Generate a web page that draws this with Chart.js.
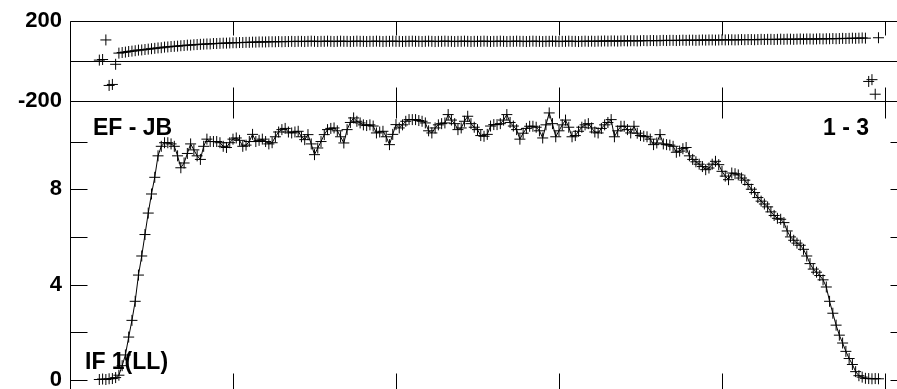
<!DOCTYPE html>
<html>
<head>
<meta charset="utf-8">
<script src="https://cdn.jsdelivr.net/npm/chart.js@4.4.1/dist/chart.umd.min.js"></script>
<style>
  html, body { margin: 0; padding: 0; background: #fff; overflow: hidden; }
  #wrap { position: relative; width: 897px; height: 389px; overflow: hidden; }
  canvas { position: absolute; left: 0; top: 0; }
</style>
</head>
<body>
<div id="wrap">
  <canvas id="phase" width="920" height="420"></canvas>
  <canvas id="amp" width="920" height="420"></canvas>
</div>
<script>
// channel of the first value, values follow one per channel
const firstChannel = 9;

// phase (degrees), channels 9..248
const phase = [
  5, 8, 106, -122, -117, -16, 40, 43, 45, 48,
  50, 52, 55, 56, 58, 60, 62, 64, 66, 67,
  70, 71, 73, 74, 75, 77, 78, 80, 80, 82,
  83, 84, 85, 86, 86, 88, 88, 89, 90, 90,
  91, 92, 92, 93, 93, 94, 94, 95, 95, 96,
  96, 96, 97, 97, 97, 98, 97, 98, 98, 99,
  98, 99, 99, 98, 99, 100, 99, 98, 99, 99,
  100, 99, 98, 99, 100, 99, 99, 98, 99, 100,
  99, 99, 98, 99, 99, 100, 99, 98, 99, 99,
  100, 99, 99, 98, 99, 99, 100, 99, 99, 98,
  99, 100, 99, 98, 99, 99, 100, 99, 99, 98,
  99, 99, 100, 99, 98, 99, 99, 99, 100, 99,
  98, 99, 99, 100, 99, 98, 99, 99, 100, 99,
  99, 98, 99, 100, 99, 99, 98, 99, 99, 100,
  99, 98, 99, 99, 100, 99, 99, 98, 99, 100,
  99, 100, 99, 100, 100, 101, 100, 101, 101, 100,
  101, 102, 101, 102, 102, 101, 102, 103, 102, 103,
  103, 102, 103, 104, 103, 104, 104, 103, 104, 105,
  104, 105, 105, 104, 105, 106, 105, 106, 106, 105,
  106, 107, 106, 107, 107, 106, 107, 108, 107, 108,
  108, 107, 108, 109, 108, 109, 109, 108, 109, 110,
  109, 110, 110, 109, 110, 111, 110, 111, 111, 110,
  111, 112, 111, 112, 112, 113, 112, 113, 114, 113,
  114, 115, 114, 115, 116, 115, -102, -93, -166, 117
];

// amplitude, channels 9..248
const amplitude = [
  0.02, 0.04, 0.02, 0.05, 0.06, 0.1, 0.2, 0.6, 1.05, 1.8,
  2.5, 3.3, 4.4, 5.2, 6.1, 7.0, 7.8, 8.5, 9.4, 9.8,
  9.95, 9.95, 9.9, 9.8, 9.4, 8.9, 9.1, 9.5, 9.9, 9.65,
  9.4, 9.25, 9.8, 10.1, 10.0, 10.0, 10.0, 9.95, 9.8, 9.75,
  9.95, 10.1, 10.15, 10.05, 9.8, 9.85, 10.0, 10.3, 10.0, 10.05,
  10.1, 10.0, 9.9, 9.95, 10.2, 10.4, 10.5, 10.55, 10.4, 10.36,
  10.4, 10.43, 10.2, 10.08, 10.29, 9.9, 9.45, 9.73, 10.0, 10.29,
  10.5, 10.55, 10.57, 10.45, 10.2, 9.94, 10.5, 10.8, 10.99, 10.85,
  10.78, 10.7, 10.67, 10.7, 10.65, 10.36, 10.4, 10.43, 10.2, 9.87,
  10.3, 10.71, 10.57, 10.7, 10.85, 10.92, 10.92, 10.92, 10.88, 10.85,
  10.78, 10.45, 10.36, 10.57, 10.7, 10.75, 10.78, 11.13, 10.9, 10.75,
  10.5, 10.57, 10.85, 11.06, 10.75, 10.6, 10.5, 10.25, 10.22, 10.3,
  10.65, 10.71, 10.71, 10.75, 10.9, 11.13, 10.8, 10.65, 10.5, 10.1,
  10.35, 10.55, 10.64, 10.64, 10.6, 10.45, 10.15, 10.7, 11.2, 10.75,
  10.2, 10.45, 10.7, 10.9, 10.6, 10.2, 10.25, 10.43, 10.6, 10.7,
  10.75, 10.57, 10.4, 10.36, 10.55, 10.7, 10.8, 10.92, 10.2, 10.45,
  10.64, 10.64, 10.5, 10.36, 10.64, 10.35, 10.25, 10.22, 10.2, 10.1,
  9.87, 9.94, 10.29, 9.9, 9.87, 9.85, 9.8, 9.55, 9.6, 9.7,
  9.75, 9.4, 9.25, 9.15, 9.05, 8.95, 8.82, 8.89, 9.05, 9.17,
  9.03, 8.75, 8.55, 8.4, 8.68, 8.65, 8.6, 8.47, 8.38, 8.2,
  8.0, 7.86, 7.65, 7.5, 7.38, 7.26, 7.05, 6.9, 6.78, 6.74,
  6.6, 6.25, 6.0, 5.86, 5.74, 5.65, 5.48, 5.2, 4.88, 4.65,
  4.52, 4.38, 4.2, 3.9, 3.3, 2.8, 2.3, 1.88, 1.55, 1.2,
  0.9, 0.65, 0.35, 0.18, 0.12, 0.07, 0.06, 0.05, 0.06, 0.05
];

const xTicks = [0, 50, 100, 150, 200, 250];
const phaseTicks = [-200, 200];
const ampTicks = [0, 2, 4, 6, 8, 10];
const ampLabels = [0, 4, 8];

const baselineLabel = 'EF - JB';
const stokesLabel = 'IF 1(LL)';
const sourceLabel = '1 - 3';

const tickFont = { family: 'Liberation Sans', size: 22, weight: 'bold' };

// draws the box, inward ticks and the annotation texts
const framePlugin = {
  id: 'frame',
  afterDatasetsDraw(chart, args, opts) {
    const ctx = chart.ctx;
    const a = chart.chartArea;
    const x = chart.scales.x, y = chart.scales.y;
    const L = Math.round(a.left) + 0.5, R = Math.round(a.right) + 0.5;
    const T = Math.round(a.top) + 0.5, B = Math.round(a.bottom) + 0.5;
    ctx.save();
    ctx.strokeStyle = '#000';
    ctx.lineWidth = 1;
    ctx.beginPath();
    ctx.rect(L, T, R - L, B - T);
    xTicks.forEach(v => {
      const px = Math.round(x.getPixelForValue(v)) + 0.5;
      ctx.moveTo(px, T); ctx.lineTo(px, T + opts.tick);
      ctx.moveTo(px, B); ctx.lineTo(px, B - opts.tick);
    });
    (opts.yTicks || []).forEach(v => {
      const py = Math.round(y.getPixelForValue(v)) + 0.5;
      ctx.moveTo(L, py); ctx.lineTo(L + opts.tick, py);
      ctx.moveTo(R, py); ctx.lineTo(R - opts.tick, py);
    });
    if (opts.zeroLine) {
      const py = Math.round(y.getPixelForValue(0)) + 0.5;
      ctx.moveTo(L, py); ctx.lineTo(R, py);
    }
    ctx.stroke();

    if (opts.texts) {
      ctx.fillStyle = '#000';
      ctx.font = 'bold 23px "Liberation Sans"';
      ctx.textBaseline = 'alphabetic';
      ctx.textAlign = 'left';
      ctx.fillText(baselineLabel, a.left + 23, a.top + 34);
      ctx.fillText(stokesLabel, a.left + 15, a.bottom - 21);
      ctx.textAlign = 'right';
      ctx.fillText(sourceLabel, a.right - 38, a.top + 34);
    }
    ctx.restore();
  }
};

function xScale() {
  return {
    type: 'linear',
    display: false,
    min: 0,
    max: 256.75
  };
}

function yScale(min, max, ticks, labelFn) {
  return {
    type: 'linear',
    min: min,
    max: max,
    afterBuildTicks: s => { s.ticks = ticks.map(v => ({ value: v })); },
    afterFit: s => { s.width = 70; },
    grid: { display: false, drawTicks: false },
    border: { display: false },
    ticks: {
      autoSkip: false,
      padding: 8,
      color: '#000',
      font: tickFont,
      callback: labelFn
    }
  };
}

const baseOptions = {
  responsive: false,
  animation: false,
  devicePixelRatio: 1,
  events: [],
  plugins: { legend: { display: false }, tooltip: { enabled: false } }
};

new Chart(document.getElementById('phase'), {
  type: 'scatter',
  data: {
    datasets: [{
      data: phase.map((v, i) => ({ x: firstChannel + i, y: v })),
      showLine: false,
      pointStyle: 'cross',
      pointRadius: 5.5,
      pointBorderWidth: 1,
      borderColor: '#000',
      backgroundColor: '#000'
    }]
  },
  options: Object.assign({}, baseOptions, {
    layout: { padding: { left: 0, right: 13, top: 20, bottom: 319 } },
    scales: {
      x: xScale(),
      y: yScale(-200, 200, phaseTicks, v => String(v))
    },
    plugins: Object.assign({}, baseOptions.plugins, {
      frame: { tick: 14, zeroLine: true }
    })
  }),
  plugins: [framePlugin]
});

new Chart(document.getElementById('amp'), {
  type: 'scatter',
  data: {
    datasets: [{
      data: amplitude.map((v, i) => ({ x: firstChannel + i, y: v })),
      showLine: true,
      tension: 0,
      borderWidth: 1,
      pointStyle: 'cross',
      pointRadius: 5.5,
      pointBorderWidth: 1,
      borderColor: '#000',
      backgroundColor: '#000'
    }]
  },
  options: Object.assign({}, baseOptions, {
    layout: { padding: { left: 0, right: 13, top: 101, bottom: 30 } },
    scales: {
      x: xScale(),
      y: yScale(-0.42, 11.7, ampTicks, v => ampLabels.includes(v) ? String(v) : '')
    },
    plugins: Object.assign({}, baseOptions.plugins, {
      frame: { tick: 17, yTicks: ampTicks, texts: true }
    })
  }),
  plugins: [framePlugin]
});
</script>
</body>
</html>
